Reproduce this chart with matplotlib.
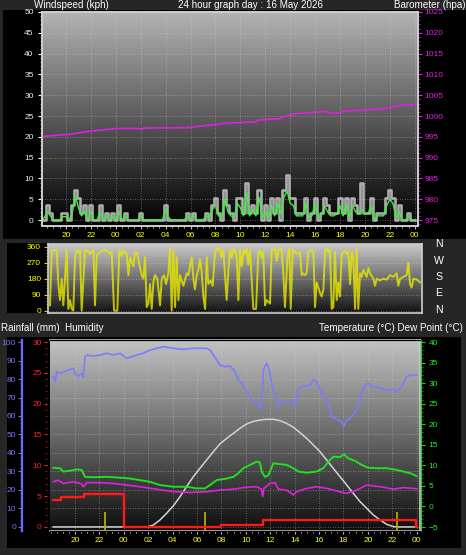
import numpy as np
import matplotlib
matplotlib.use('Agg')
import matplotlib.pyplot as plt
from matplotlib.colors import LinearSegmentedColormap
from matplotlib.patches import Rectangle
from matplotlib.ticker import MultipleLocator

plt.rcParams['font.family'] = ['Liberation Sans', 'DejaVu Sans']

# time axis: hours since 18:00 of the previous day
hour_ticks = [2, 4, 6, 8, 10, 12, 14, 16, 18, 20, 22, 24, 26, 28, 30]
hour_labels = ['20', '22', '00', '02', '04', '06', '08', '10', '12', '14',
               '16', '18', '20', '22', '00']

# wind gust (kph), one value every 15 minutes from 18:00
gust_kph = [
    0, 0, 3.6, 1.8,   0, 0, 0, 1.8,   1.8, 0, 3.6, 7.2,   5.4, 1.8, 3.6, 0,
    3.6, 0, 0, 3.6,   0, 1.8, 0, 1.8,   0, 3.6, 0, 1.8,   0, 0, 0, 0,
    1.8, 0, 0, 0,   0, 0, 0, 0,   3.6, 0, 0, 0,   0, 0, 0, 1.8,
    0, 1.8, 0, 0,   0, 1.8, 0, 3.6,   5.4, 1.8, 0, 7.2,   3.6, 1.8, 0, 5.4,
    5.4, 1.8, 9.0, 1.8,   3.6, 1.8, 7.2, 0,   3.6, 0, 5.4, 1.8,   5.4, 0, 7.2, 10.8,
    5.4, 5.4, 1.8, 1.8,   1.8, 5.4, 0, 1.8,   5.4, 0, 1.8, 5.4,   3.6, 1.8, 1.8, 1.8,
    5.4, 1.8, 5.4, 0,   5.4, 3.6, 1.8, 9.0,   1.8, 1.8, 5.4, 0,   1.8, 1.8, 1.8, 5.4,
    7.2, 5.4, 0, 3.6,   0, 0, 1.8, 0,   0]
# average wind speed (kph), same 15 minute steps
wind_kph = [
    0, 0.5, 2.0, 1.0,   0, 0, 0, 0.8,   0.8, 0, 1.5, 6.0,   3.0, 1.0, 2.0, 0,
    2.0, 0, 0, 2.0,   0, 1.0, 0, 0.8,   0, 2.0, 0, 1.0,   0, 0, 0, 0,
    1.0, 0, 0, 0,   0, 0, 0, 0,   2.5, 0.5, 0, 0,   0, 0, 0, 1.0,
    0, 1.0, 0, 0,   0, 1.0, 0.5, 2.5,   3.5, 1.0, 0.5, 5.0,   2.0, 1.0, 0.5, 4.0,
    3.0, 1.0, 6.5, 1.0,   2.5, 1.0, 5.5, 0.5,   2.0, 0.5, 3.5, 1.0,   4.0, 1.5, 5.5, 7.0,
    4.0, 3.5, 1.0, 1.0,   1.0, 4.0, 0.5, 1.0,   4.0, 0.5, 1.0, 3.5,   2.0, 1.0, 1.0, 1.5,
    3.5, 1.0, 4.0, 0.5,   3.5, 2.0, 1.5, 2.5,   1.5, 1.5, 3.5, 0,   1.0, 1.0, 1.0, 3.5,
    5.0, 4.0, 0.5, 2.0,   0, 0, 1.0, 0,   0]

baro_t = [0.2, 2.3, 4.1, 6.1, 7.9, 8.1, 8.2, 11.7, 13.8, 14.9, 17.3, 17.4, 19.2,
          19.7, 20.3, 22.7, 23.5, 24.0, 24.3, 27.2, 28.8, 30.1]
baro_hpa = [995.1, 995.6, 996.4, 997.0, 997.0, 996.7, 997.1, 997.2, 997.9, 998.3,
            998.6, 999.0, 999.4, 1000.0, 1000.5, 1001.1, 1000.6, 1000.8, 1001.2,
            1001.6, 1002.5, 1002.8]

wind_dir = [
    (0.16, 30), (0.30, 340), (0.56, 340), (0.70, 340), (0.83, 150), (0.96, 60),
    (1.10, 180), (1.23, 30), (1.50, 340), (1.63, 10), (1.77, 60), (1.90, 10),
    (2.03, 0), (2.17, 300), (2.30, 340), (2.43, 330), (2.57, 340), (2.70, 0),
    (2.97, 340), (3.10, 340), (3.37, 320), (3.64, 340), (3.77, 30), (3.91, 310),
    (4.17, 330), (4.44, 340), (4.71, 340), (4.97, 320), (5.11, 330), (5.30, 0),
    (5.56, 0), (5.72, 340), (5.91, 310), (6.04, 340), (6.31, 320), (6.45, 200),
    (6.58, 300), (6.85, 250), (6.98, 330), (7.17, 320), (7.33, 260), (7.52, 200),
    (7.65, 180), (7.78, 300), (7.92, 20), (8.05, 40), (8.18, 150), (8.32, 10),
    (8.45, 160), (8.58, 200), (8.77, 180), (8.99, 30), (9.12, 180), (9.31, 200),
    (9.47, 150), (9.65, 210), (9.79, 350), (9.92, 0), (10.06, 340), (10.19, 20),
    (10.32, 300), (10.46, 60), (10.59, 200), (10.86, 140), (11.12, 210), (11.26, 200),
    (11.53, 300), (11.66, 180), (11.79, 120), (11.93, 200), (12.06, 230), (12.19, 290),
    (12.33, 220), (12.46, 80), (12.60, 10), (12.73, 300), (12.86, 150), (13.05, 170),
    (13.21, 140), (13.40, 330), (13.53, 350), (13.66, 340), (13.80, 350), (13.93, 300),
    (14.07, 340), (14.20, 200), (14.33, 60), (14.47, 230), (14.60, 340), (14.73, 300),
    (14.87, 350), (15.00, 340), (15.14, 300), (15.27, 60), (15.40, 340), (15.54, 250),
    (15.67, 340), (15.80, 320), (15.94, 350), (16.07, 260), (16.21, 340), (16.47, 10),
    (16.69, 10), (16.87, 330), (17.01, 340), (17.14, 300), (17.27, 330), (17.41, 30),
    (17.54, 60), (17.81, 40), (17.94, 340), (18.08, 340), (18.21, 350), (18.34, 280),
    (18.48, 340), (18.61, 350), (18.75, 340), (18.88, 200), (19.01, 20), (19.20, 300),
    (19.36, 350), (19.47, 10), (19.63, 340), (19.81, 330), (19.95, 320), (20.22, 330),
    (20.35, 200), (20.48, 210), (20.62, 200), (20.75, 210), (20.88, 330), (21.15, 340),
    (21.29, 330), (21.42, 20), (21.55, 160), (21.69, 130), (21.82, 100), (21.95, 80),
    (22.09, 120), (22.22, 330), (22.35, 350), (22.49, 330), (22.62, 340), (22.76, 10),
    (22.89, 20), (23.02, 330), (23.16, 60), (23.29, 160), (23.42, 80), (23.56, 320),
    (23.69, 330), (23.83, 340), (23.96, 320), (24.09, 330), (24.23, 150), (24.36, 330),
    (24.49, 300), (24.63, 10), (24.76, 350), (24.89, 10), (25.03, 210), (25.16, 190),
    (25.30, 230), (25.43, 210), (25.56, 190), (25.70, 240), (25.83, 210), (26.10, 180),
    (26.23, 140), (26.37, 180), (26.63, 170), (26.90, 180), (27.17, 175), (27.43, 200),
    (27.70, 190), (27.97, 210), (28.10, 140), (28.24, 180), (28.50, 190), (28.77, 200),
    (28.91, 270), (29.04, 150), (29.17, 130), (29.31, 180), (29.57, 175), (29.84, 160)]

hum_t = [0.22, 0.36, 0.50, 0.77, 1.18, 1.59, 1.86, 2.00, 2.27, 2.55, 2.68, 2.82, 2.96,
         3.50, 4.05, 4.59, 5.14, 5.69, 6.23, 6.64, 7.05, 7.60, 8.15, 8.69, 9.24, 10.06,
         10.88, 11.70, 12.79, 13.06, 13.34, 13.88, 14.29, 14.70, 15.11, 15.39, 15.66,
         16.07, 16.48, 16.89, 17.16, 17.30, 17.44, 17.71, 17.93, 18.12, 18.39, 18.67,
         18.94, 19.49, 19.90, 20.03, 20.31, 20.71, 21.26, 21.54, 21.81, 22.08, 22.49,
         22.76, 23.04, 23.31, 23.58, 23.86, 24.05, 24.27, 24.54, 24.95, 25.22, 25.50,
         25.77, 26.04, 26.45, 27.00, 27.55, 28.09, 28.36, 28.77, 29.18, 29.59, 30.00]
hum_pct = [81.3, 78.6, 84.0, 83.0, 84.0, 85.0, 85.8, 83.0, 81.6, 83.0, 81.0, 92.0, 93.0,
           92.4, 93.0, 93.9, 93.0, 93.9, 91.2, 92.0, 93.0, 93.9, 95.7, 96.6, 97.5, 96.6,
           96.0, 96.6, 96.6, 95.7, 93.0, 87.6, 86.7, 87.0, 84.0, 79.5, 77.7,
           73.0, 68.6, 66.8, 64.0, 66.0, 84.9, 88.5, 84.9, 77.7, 70.5, 65.0,
           67.7, 67.7, 66.8, 65.0, 75.0, 75.9, 76.8, 79.5, 78.6, 74.0, 69.5,
           66.8, 59.6, 58.7, 57.8, 56.9, 54.6, 57.8, 58.7, 62.3, 65.0, 72.3,
           76.8, 77.7, 75.9, 75.0, 74.0, 74.4, 73.0, 75.9, 81.3, 82.2, 82.2]

temp_t = [0.22, 0.77, 1.04, 1.59, 2.14, 2.55, 2.82, 3.50, 4.59, 5.69, 6.51, 7.33, 8.15,
          8.97, 10.06, 11.15, 11.97, 12.65, 13.06, 13.61, 14.43, 14.98, 15.39, 15.80,
          16.34, 16.89, 17.16, 17.30, 17.57, 17.85, 18.26, 18.80, 19.35, 19.90, 20.31,
          20.99, 21.81, 22.35, 22.76, 23.17, 23.72, 24.05, 24.40, 24.95, 25.50, 26.04,
          26.73, 27.55, 28.36, 28.91, 29.46, 30.00]
temp_c = [9.4, 9.3, 8.5, 8.7, 9.0, 8.9, 7.2, 7.1, 7.2, 7.0, 6.8, 6.4, 6.0,
          5.2, 4.8, 4.8, 4.4, 4.4, 5.2, 6.4, 6.8, 7.2, 8.1, 9.3,
          10.1, 10.9, 10.7, 8.5, 7.2, 7.6, 10.5, 10.3, 10.1, 9.3, 8.5,
          8.2, 8.5, 9.3, 10.9, 12.1, 12.0, 12.7, 11.7, 11.1, 10.1, 9.4,
          9.3, 9.3, 8.9, 8.5, 8.1, 7.4]

dew_t = [0.22, 0.63, 1.04, 1.86, 2.55, 2.68, 2.96, 4.05, 5.14, 6.23, 7.33, 8.69, 10.06,
         11.43, 12.79, 13.88, 14.98, 16.07, 16.89, 17.30, 17.38, 17.49, 17.98, 18.39,
         18.67, 19.35, 19.90, 20.17, 20.99, 21.81, 22.63, 23.45, 24.13, 24.81, 25.36,
         25.91, 26.45, 27.27, 28.09, 28.91, 30.00]
dew_c = [6.0, 6.4, 5.6, 6.0, 5.5, 4.8, 5.8, 5.8, 5.6, 5.2, 4.8, 4.2, 3.6,
         3.4, 3.6, 4.0, 4.2, 4.7, 4.8, 4.2, 2.4, 4.4, 5.6, 5.8,
         4.2, 4.0, 2.8, 3.6, 4.4, 4.8, 4.4, 3.8, 3.2, 3.6, 4.4,
         5.2, 5.0, 4.7, 4.2, 4.6, 4.3]

rain_t = [0.22, 0.82, 2.76, 6.02, 13.97, 17.38, 29.95, 30.0]
rain_mm = [4.4, 4.8, 5.3, 0.0, 0.3, 1.1, 0.0, 0.0]

solar_t = [0.2, 7.87, 8.42, 8.97, 9.51, 10.06, 10.61, 11.15, 11.70, 12.24, 12.79, 13.34,
           13.88, 14.43, 14.98, 15.52, 16.07, 16.62, 17.16, 17.71, 18.26, 18.80, 19.35,
           19.90, 20.44, 20.99, 21.54, 22.08, 22.63, 23.17, 23.72, 24.27, 24.81, 25.36,
           25.91, 26.45, 27.00, 27.55, 28.09, 28.36, 30.0]
solar = [0, 0, 1.0, 3.8, 7.4, 11.4, 16.4, 21.8, 27.2, 31.7, 36.2, 40.7,
         44.9, 47.9, 50.6, 53.3, 55.7, 57.1, 57.8, 58.2, 58.2, 57.5, 56.0,
         53.9, 51.0, 47.9, 44.3, 40.7, 36.2, 31.7, 27.2, 22.7, 18.2, 13.7,
         10.1, 6.5, 3.8, 1.4, 0.2, 0, 0]

event_t = [4.46, 12.65, 28.36]
event_mm = [2.5, 2.5, 2.5]

# ---------------------------------------------------------------------------
W, H = 466, 555
fig = plt.figure(figsize=(W / 100, H / 100), dpi=100, facecolor='#262626')


def px_axes(l, t, r, b):
    return fig.add_axes([l / W, 1 - b / H, (r - l) / W, (b - t) / H])


def black_box(l, t, r, b):
    fig.patches.append(Rectangle((l / W, 1 - b / H), (r - l) / W, (b - t) / H,
                                 transform=fig.transFigure, facecolor='black',
                                 edgecolor='none', zorder=-1))


def gradient(ax, top, bottom):
    cmap = LinearSegmentedColormap.from_list('g', [bottom, top])
    x0, x1 = ax.get_xlim()
    y0, y1 = ax.get_ylim()
    ax.imshow(np.linspace(0, 1, 256).reshape(-1, 1), cmap=cmap, origin='lower',
              extent=[x0, x1, y0, y1], aspect='auto', zorder=0)
    ax.set_xlim(x0, x1)
    ax.set_ylim(y0, y1)


def frame(ax, color='#cfcfcf'):
    for s in ax.spines.values():
        s.set_color(color)
        s.set_linewidth(1.2)


def fig_text(x, y, s, **kw):
    fig.text(x / W, 1 - y / H, s, color='white', fontsize=7.1, va='baseline', **kw)


black_box(3, 10, 466, 239)
black_box(7, 243, 48, 313)
black_box(7, 337, 461, 548)

grid_kw = dict(color='#d0d0d0', alpha=0.55, lw=0.6, linestyle=(0, (1, 2)))

# ---- wind / barometer panel ----
ax1 = px_axes(42, 12, 418, 226)
ax1.set_xlim(0.08, 30.26)
ax1.set_ylim(-1.44, 50)
gradient(ax1, '#b4b4b4', '#000000')
frame(ax1)
gust_t = np.arange(len(gust_kph)) * 0.25
ax1.plot(gust_t, gust_kph, drawstyle='steps-mid', color='#c6c6c6', lw=1.9,
         alpha=0.85, zorder=3)
ax1.plot(gust_t, wind_kph, color='#3cf03c', lw=1.0, zorder=4)
ax1.set_xticks(hour_ticks)
ax1.set_xticklabels(hour_labels)
ax1.xaxis.set_minor_locator(MultipleLocator(0.5))
ax1.yaxis.set_major_locator(MultipleLocator(5))
ax1.yaxis.set_minor_locator(MultipleLocator(1))
ax1.grid(True, which='major', **grid_kw)
ax1.tick_params(axis='x', which='both', colors='#bbbbbb', labelcolor='#ffff00',
                labelsize=6, length=2.5, pad=2)
ax1.tick_params(axis='x', which='minor', length=1.5)
ax1.tick_params(axis='y', which='major', colors='white', labelcolor='#e4eeff',
                labelsize=6, length=3, pad=3)
ax1.tick_params(axis='y', which='minor', colors='#999999', length=1.5)

ax1b = ax1.twinx()
ax1b.set_ylim(973.56, 1025)
ax1b.plot(baro_t, baro_hpa, color='#e020e0', lw=1.2, zorder=3)
ax1b.yaxis.set_major_locator(MultipleLocator(5))
ax1b.yaxis.set_minor_locator(MultipleLocator(1))
ax1b.tick_params(axis='y', which='major', colors='#e020e0', labelcolor='#e020e0',
                 labelsize=6, length=3, pad=1.5)
ax1b.tick_params(axis='y', which='minor', colors='#c020c0', length=1.5)
frame(ax1b)

# ---- wind direction panel ----
ax2 = px_axes(48, 244, 422, 313)
ax2.set_xlim(0, 30)
ax2.set_ylim(-13, 375)
gradient(ax2, '#cacaca', '#121212')
frame(ax2)
dir_t, dir_deg = zip(*wind_dir)
ax2.plot(dir_t, dir_deg, color='#e8e800', lw=1.4, alpha=0.8, zorder=3)
ax2.set_xticks([])
ax2.set_yticks([0, 90, 180, 270, 360])
ax2.yaxis.set_minor_locator(MultipleLocator(18))
ax2.grid(True, axis='y', which='major', **grid_kw)
ax2.tick_params(axis='y', which='major', colors='#d8d800', labelcolor='#ffff00',
                labelsize=6, length=3, pad=2)
ax2.tick_params(axis='y', which='minor', colors='#8a8a00', length=1.5)
for i, letter in enumerate(['N', 'W', 'S', 'E', 'N']):
    fig.text(439 / W, 1 - (244 + i * 16.5) / H, letter, color='white', fontsize=7.6,
             ha='center', va='center')

# ---- humidity / rain / temperature panel ----
ax3 = px_axes(50, 340, 420, 531)
ax3.set_xlim(-0.05, 30.28)
ax3.set_ylim(-2.2, 101.1)
gradient(ax3, '#c2c2c2', '#0e0e0e')
frame(ax3)
ax3.plot(hum_t, hum_pct, color='#7b7bff', lw=1.2, zorder=3)
ax3.plot(solar_t, solar, color='#d4d4d4', lw=1.1, zorder=2)
ax3.set_xticks(hour_ticks)
ax3.set_xticklabels(hour_labels)
ax3.xaxis.set_minor_locator(MultipleLocator(0.5))
ax3.yaxis.set_major_locator(MultipleLocator(10))
ax3.yaxis.set_minor_locator(MultipleLocator(2))
ax3.grid(True, which='major', **grid_kw)
ax3.spines['left'].set_position(('outward', 20))
ax3.spines['left'].set_color('#6a6aff')
ax3.spines['left'].set_linewidth(1.6)
ax3.tick_params(axis='x', which='both', colors='#bbbbbb', labelcolor='#ffff00',
                labelsize=6, length=2.5, pad=2)
ax3.tick_params(axis='x', which='minor', length=1.5)
ax3.tick_params(axis='y', which='major', colors='#6a6aff', labelcolor='#7878ff',
                labelsize=6, length=3, pad=1.5)
ax3.tick_params(axis='y', which='minor', colors='#5050d0', length=1.5)

ax3r = ax3.twinx()
ax3r.set_ylim(-0.66, 30.33)
ax3r.yaxis.set_ticks_position('left')
ax3r.yaxis.set_label_position('left')
ax3r.spines['left'].set_position(('outward', 2))
ax3r.spines['left'].set_visible(False)
ax3r.spines['right'].set_visible(False)
ax3r.plot(rain_t, rain_mm, drawstyle='steps-post', color='#ff1a1a', lw=1.7, zorder=4)
ax3r.vlines(event_t, -0.6, event_mm, color='#b8a800', lw=1.3, zorder=3)
ax3r.yaxis.set_major_locator(MultipleLocator(5))
ax3r.yaxis.set_minor_locator(MultipleLocator(1))
ax3r.tick_params(axis='y', which='major', colors='#ff2020', labelcolor='#ff2020',
                 labelsize=6, length=2.5, pad=1.5)
ax3r.tick_params(axis='y', which='minor', colors='#c01010', length=1.5)

ax3t = ax3.twinx()
ax3t.set_ylim(-5.97, 40.5)
ax3t.plot(temp_t, temp_c, color='#22dd22', lw=1.4, zorder=3)
ax3t.plot(dew_t, dew_c, color='#dd22dd', lw=1.2, zorder=3)
ax3t.yaxis.set_major_locator(MultipleLocator(5))
ax3t.yaxis.set_minor_locator(MultipleLocator(1))
ax3t.spines['right'].set_position(('outward', 1))
ax3t.spines['right'].set_color('#22cc22')
ax3t.spines['left'].set_visible(False)
ax3t.tick_params(axis='y', which='major', colors='#22cc22', labelcolor='#22ee22',
                 labelsize=6, length=3, pad=2)
ax3t.tick_params(axis='y', which='minor', colors='#1a9a1a', length=1.5)

# ---- labels ----
fig_text(34, 7.5, 'Windspeed (kph)')
fig_text(251, 7.5, '24 hour graph day : 16 May 2026', ha='center')
fig_text(465, 7.5, 'Barometer (hpa)', ha='right')
fig_text(1, 331, 'Rainfall (mm)  Humidity')
fig_text(463, 331, 'Temperature (\u00b0C) Dew Point (\u00b0C)', ha='right')

fig.savefig('out.png', dpi=100, facecolor=fig.get_facecolor())
